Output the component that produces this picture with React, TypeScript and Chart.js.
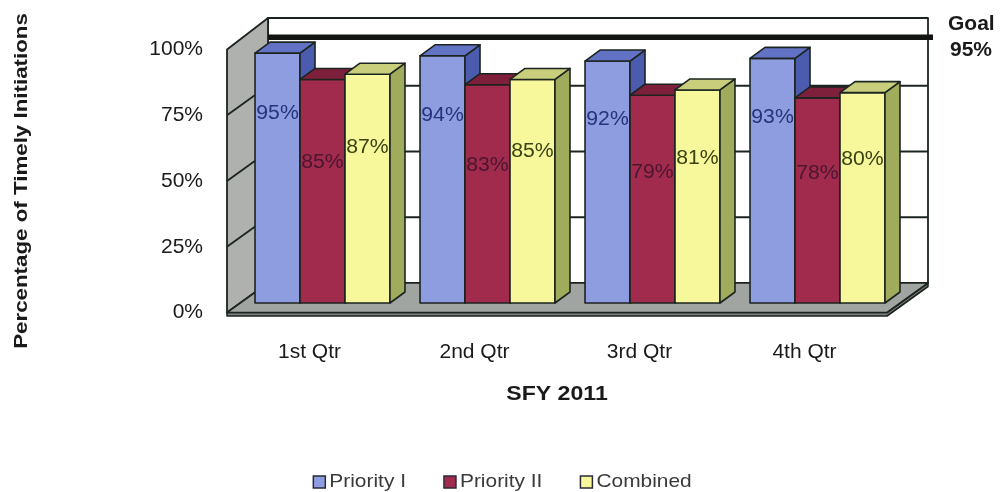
import React, { useEffect, useRef } from "react";
import { Chart, registerables } from "chart.js";

Chart.register(...registerables);

// ---------- data ----------
const categories = ["1st Qtr", "2nd Qtr", "3rd Qtr", "4th Qtr"];
const seriesNames = ["Priority I", "Priority II", "Combined"];
const priority1 = [95, 94, 92, 93];
const priority2 = [85, 83, 79, 78];
const combined = [87, 85, 81, 80];
const yTickValues = [0, 25, 50, 75, 100];
const goalValue = 95;
const goalText = ["Goal", "95%"];
const yTitle = "Percentage of Timely Initiations";
const xTitle = "SFY 2011";

// ---------- styles ----------
const FONT = "'Liberation Sans', Arial, sans-serif";
const EDGE = "#1c2420";
const FACES = [
  { front: "#8e9de0", top: "#6273c6", side: "#4b5bae", label: "#26327a", labelFrac: 0.76 },
  { front: "#a02b4d", top: "#7e1f3c", side: "#6a1a33", label: "#4c1530", labelFrac: 0.63 },
  { front: "#f7f79b", top: "#c8ce7c", side: "#a1ab5c", label: "#3a4212", labelFrac: 0.68 },
];
const FRONT = { dx: -13, dy: 9.5 };
const BACK = { dx: 28, dy: -20 };
const BAR_DEPTH = { dx: 15, dy: -11 };

function poly(ctx: CanvasRenderingContext2D, pts: number[][], fill: string, stroke: string, lw: number) {
  ctx.beginPath();
  ctx.moveTo(pts[0][0], pts[0][1]);
  for (let i = 1; i < pts.length; i++) ctx.lineTo(pts[i][0], pts[i][1]);
  ctx.closePath();
  ctx.fillStyle = fill;
  ctx.fill();
  if (lw > 0) {
    ctx.strokeStyle = stroke;
    ctx.lineWidth = lw;
    ctx.stroke();
  }
}

function text(
  ctx: CanvasRenderingContext2D,
  s: string,
  x: number,
  y: number,
  font: string,
  color: string,
  sx: number,
  align: CanvasTextAlign,
  rot = 0
) {
  ctx.save();
  ctx.font = font;
  ctx.fillStyle = color;
  ctx.textBaseline = "middle";
  ctx.textAlign = align;
  ctx.translate(x, y);
  if (rot) ctx.rotate(rot);
  ctx.scale(sx, 1);
  ctx.fillText(s, 0, 0);
  ctx.restore();
}

const threeD = {
  id: "threeD",
  beforeDatasetsDraw(chart: any) {
    const { ctx, chartArea: ca, scales } = chart;
    const y = scales.y;
    const base = y.getPixelForValue(0);
    const top = y.getPixelForValue(100);
    const L = ca.left;
    const R = ca.right;
    ctx.save();
    ctx.lineJoin = "round";

    // back wall
    poly(
      ctx,
      [
        [L + BACK.dx, top + BACK.dy - 2],
        [R + BACK.dx, top + BACK.dy - 2],
        [R + BACK.dx, base + BACK.dy],
        [L + BACK.dx, base + BACK.dy],
      ],
      "#ffffff",
      EDGE,
      1.8
    );
    // left wall
    poly(
      ctx,
      [
        [L + FRONT.dx, base + FRONT.dy],
        [L + FRONT.dx, top + FRONT.dy],
        [L + BACK.dx, top + BACK.dy - 2],
        [L + BACK.dx, base + BACK.dy],
      ],
      "#aeb1ae",
      EDGE,
      1.8
    );
    // gridlines
    ctx.strokeStyle = EDGE;
    ctx.lineWidth = 1.8;
    for (const v of yTickValues) {
      if (v <= 0 || v >= 100) continue;
      const py = y.getPixelForValue(v);
      ctx.beginPath();
      ctx.moveTo(L + FRONT.dx, py + FRONT.dy);
      ctx.lineTo(L + BACK.dx, py + BACK.dy);
      ctx.lineTo(R + BACK.dx, py + BACK.dy);
      ctx.stroke();
    }
    // goal line
    const gy = y.getPixelForValue(goalValue) + BACK.dy + 4;
    ctx.strokeStyle = "#111411";
    ctx.lineWidth = 5.5;
    ctx.lineCap = "butt";
    ctx.beginPath();
    ctx.moveTo(L + BACK.dx, gy);
    ctx.lineTo(R + BACK.dx + 5, gy);
    ctx.stroke();

    // floor thickness
    const th = 3.5;
    poly(
      ctx,
      [
        [L + FRONT.dx, base + FRONT.dy],
        [R + FRONT.dx, base + FRONT.dy],
        [R + BACK.dx, base + BACK.dy],
        [R + BACK.dx, base + BACK.dy + th],
        [R + FRONT.dx, base + FRONT.dy + th],
        [L + FRONT.dx, base + FRONT.dy + th],
      ],
      "#7c807c",
      EDGE,
      1.6
    );
    // floor top
    poly(
      ctx,
      [
        [L + FRONT.dx, base + FRONT.dy],
        [R + FRONT.dx, base + FRONT.dy],
        [R + BACK.dx, base + BACK.dy],
        [L + BACK.dx, base + BACK.dy],
      ],
      "#a1a5a1",
      EDGE,
      1.6
    );

    // bars
    const labels: any[] = [];
    chart.data.datasets.forEach((ds: any, di: number) => {
      const meta = chart.getDatasetMeta(di);
      const st = FACES[di];
      meta.data.forEach((bar: any, i: number) => {
        const p = bar.getProps(["x", "y", "width", "base"], true);
        const xl = p.x - p.width / 2;
        const xr = p.x + p.width / 2;
        const yt = p.y;
        const yb = p.base;
        const d = BAR_DEPTH;
        poly(ctx, [[xl, yt], [xr, yt], [xr, yb], [xl, yb]], st.front, EDGE, 1.6);
        poly(ctx, [[xr, yt], [xr + d.dx, yt + d.dy], [xr + d.dx, yb + d.dy], [xr, yb]], st.side, EDGE, 1.6);
        poly(ctx, [[xl, yt], [xl + d.dx, yt + d.dy], [xr + d.dx, yt + d.dy], [xr, yt]], st.top, EDGE, 1.6);
        const v = ds.data[i];
        labels.push({ x: p.x, y: y.getPixelForValue(v * st.labelFrac), s: v + "%", c: st.label });
      });
    });
    for (const lb of labels) {
      text(ctx, lb.s, lb.x, lb.y, `20px ${FONT}`, lb.c, 1.06, "center");
    }
    ctx.restore();
    return false;
  },
  afterDraw(chart: any) {
    const { ctx, chartArea: ca } = chart;
    text(ctx, yTitle, 22, 181, `bold 18px ${FONT}`, "#1a1a1a", 1.24, "center", -Math.PI / 2);
    text(ctx, xTitle, (ca.left + ca.right) / 2 + FRONT.dx, 394, `bold 21px ${FONT}`, "#1a1a1a", 1.1, "center");
    text(ctx, goalText[0], 948, 24, `bold 21px ${FONT}`, "#1a1a1a", 1.0, "left");
    text(ctx, goalText[1], 950, 50, `bold 21px ${FONT}`, "#1a1a1a", 1.0, "left");
    // legend
    ctx.save();
    const font = `19px ${FONT}`;
    ctx.font = font;
    const sx = 1.1;
    const box = 12;
    const gapBox = 4;
    const gapItem = 38;
    const widths = seriesNames.map((n) => ctx.measureText(n).width * sx);
    const total = widths.reduce((a, w) => a + box + gapBox + w, 0) + gapItem * (seriesNames.length - 1);
    let cx = chart.width / 2 - total / 2;
    const cy = 482;
    seriesNames.forEach((n, i) => {
      ctx.fillStyle = FACES[i].front;
      ctx.strokeStyle = "#2a2a3a";
      ctx.lineWidth = 1.5;
      ctx.fillRect(cx, cy - box / 2, box, box);
      ctx.strokeRect(cx, cy - box / 2, box, box);
      text(ctx, n, cx + box + gapBox, cy, font, "#3a3a3a", sx, "left");
      cx += box + gapBox + widths[i] + gapItem;
    });
    ctx.restore();
  },
};

export default function App() {
  const ref = useRef<HTMLCanvasElement | null>(null);
  useEffect(() => {
    if (!ref.current) return;
    const chart = new Chart(ref.current, {
      type: "bar",
      data: {
        labels: categories,
        datasets: [
          { label: seriesNames[0], data: priority1, backgroundColor: FACES[0].front },
          { label: seriesNames[1], data: priority2, backgroundColor: FACES[1].front },
          { label: seriesNames[2], data: combined, backgroundColor: FACES[2].front },
        ],
      },
      options: {
        animation: false,
        responsive: false,
        devicePixelRatio: 1,
        datasets: { bar: { categoryPercentage: 0.818, barPercentage: 1 } },
        layout: { padding: { top: 40, right: 105, bottom: 0, left: 0 } },
        plugins: { legend: { display: false }, tooltip: { enabled: false } },
        scales: {
          x: {
            grid: { display: false, drawTicks: false },
            border: { display: false },
            ticks: {
              padding: 37,
              labelOffset: FRONT.dx,
              maxRotation: 0,
              color: "#1a1a1a",
              font: { family: FONT, size: 21 },
            },
            afterFit: (s: any) => {
              s.height = 189;
            },
          },
          y: {
            min: 0,
            max: 100,
            grid: { display: false, drawTicks: false },
            border: { display: false },
            afterBuildTicks: (s: any) => {
              s.ticks = yTickValues.map((v) => ({ value: v }));
            },
            ticks: {
              padding: 37,
              labelOffset: FRONT.dy,
              color: "#1a1a1a",
              font: { family: FONT, size: 21 },
              callback: (v: any) => v + "%",
            },
            afterFit: (s: any) => {
              s.width = 240;
              s.paddingTop = 0;
              s.paddingBottom = 0;
            },
          },
        },
      },
      plugins: [threeD],
    } as any);
    return () => chart.destroy();
  }, []);
  return (
    <div style={{ position: "absolute", left: 0, top: 0, width: 1005, height: 492, background: "#fff" }}>
      <canvas ref={ref} width={1005} height={492} />
    </div>
  );
}
